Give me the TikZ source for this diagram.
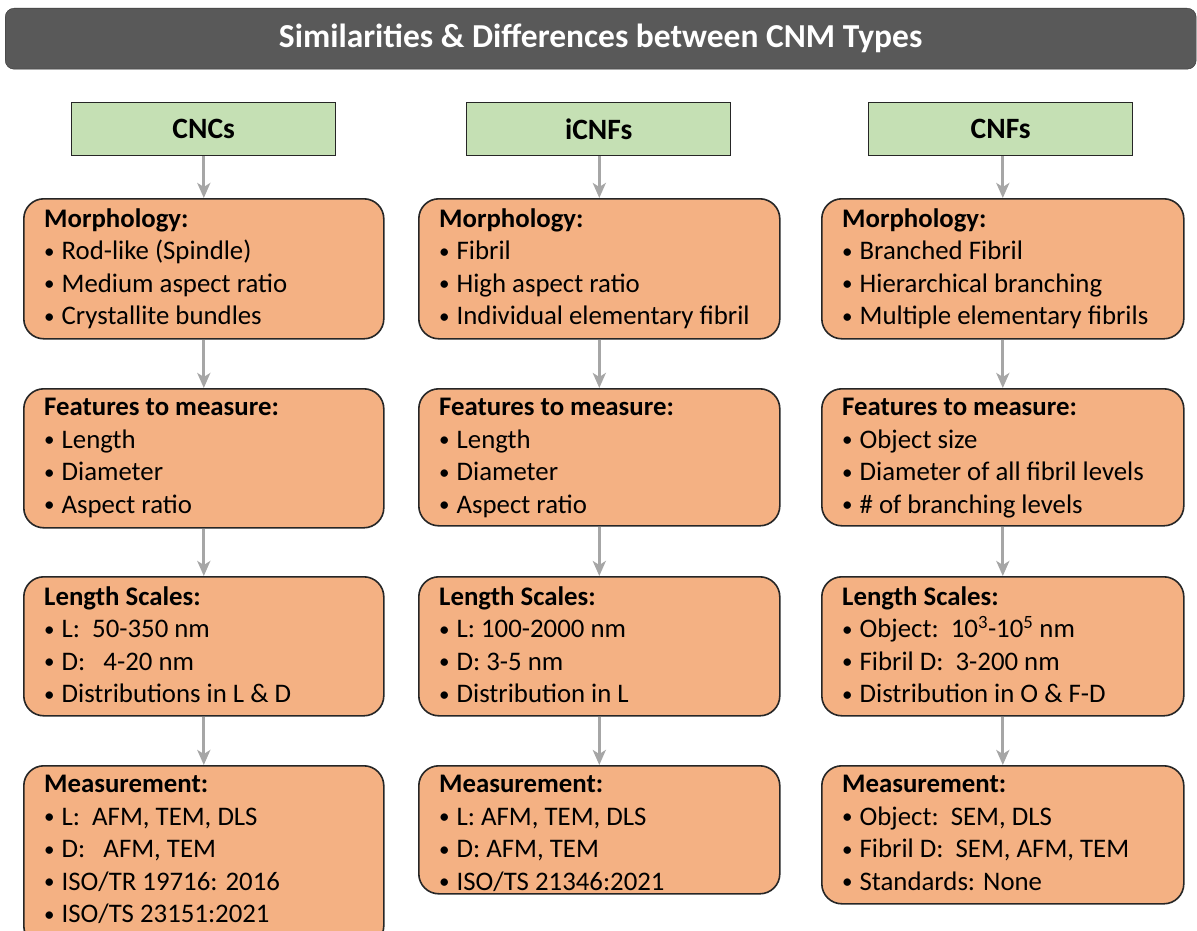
\documentclass[tikz,border=0pt]{standalone}
\usepackage{fontspec}
\setmainfont{Carlito}
\usetikzlibrary{arrows.meta}
\definecolor{orangebox}{HTML}{F4B183}
\definecolor{greenbox}{HTML}{C5E0B4}
\definecolor{titlegray}{HTML}{595959}
\definecolor{arrowgray}{HTML}{A6A6A6}
\definecolor{edgegray}{HTML}{262626}
\newcommand{\itm}{{\fontsize{21}{21}\selectfont\raisebox{1.5pt}{•}}\hspace{7pt}}
\tikzset{
  infobox/.style={draw=edgegray, line width=1.6pt, fill=orangebox, rounded corners=20pt,
    anchor=north west, inner sep=0pt, minimum width=#1},
  infotext/.style={anchor=north west, inner sep=0pt, align=left,
    font=\fontsize{26.8}{32.5}\selectfont, text=black},
  typebox/.style={draw=edgegray, line width=1.4pt, fill=greenbox, anchor=north west,
    inner sep=0pt, minimum height=53pt, minimum width=264pt,
    font=\fontsize{29.5}{32}\selectfont\bfseries},
  flow/.style={draw=arrowgray, line width=3.2pt, -{Stealth[length=15pt,width=13pt,inset=4pt]}},
}
\begin{document}
\begin{tikzpicture}[x=1pt,y=-1pt]
\useasboundingbox (0,0) rectangle (1197,931);
\clip (0,0) rectangle (1197,931);
% title
\node[draw=black!80, fill=titlegray, rounded corners=9pt, anchor=north west, inner sep=0pt,
  minimum width=1191pt, minimum height=61pt] (titlebar) at (5,8) {};
\node[text=white, font=\fontsize{33.5}{36}\selectfont\bfseries] (title)
  at (titlebar.center) {Similarities \& Differences between CNM Types};
% type boxes
\node[typebox] (g1) at (71,102) {CNCs};
\node[typebox] (g2) at (466,102) {iCNFs};
\node[typebox] (g3) at (868,102) {CNFs};
% column 1
\node[infobox=360pt, minimum height=140pt] (a1) at (23,198) {};
\node[infobox=360pt, minimum height=139pt] (b1) at (23,388) {};
\node[infobox=360pt, minimum height=139pt] (c1) at (23,576) {};
\node[infobox=360pt, minimum height=180pt] (d1) at (23,765) {};
% column 2
\node[infobox=361pt, minimum height=140pt] (a2) at (418,198) {};
\node[infobox=361pt, minimum height=137pt] (b2) at (418,388) {};
\node[infobox=361pt, minimum height=139pt] (c2) at (418,576) {};
\node[infobox=361pt, minimum height=128pt] (d2) at (418,765) {};
% column 3
\node[infobox=362pt, minimum height=140pt] (a3) at (821,198) {};
\node[infobox=362pt, minimum height=137pt] (b3) at (821,388) {};
\node[infobox=362pt, minimum height=139pt] (c3) at (821,576) {};
\node[infobox=362pt, minimum height=138pt] (d3) at (821,765) {};
% texts column 1
\node[infotext] (ta1) at ([shift={(21,10)}]a1.north west) {\textbf{Morphology:}\\
  \itm Rod-like (Spindle)\\ \itm Medium aspect ratio\\ \itm Crystallite bundles};
\node[infotext] (tb1) at ([shift={(21,10)}]b1.north west) {\textbf{Features to measure:}\\
  \itm Length\\ \itm Diameter\\ \itm Aspect ratio};
\node[infotext] (tc1) at ([shift={(21,10)}]c1.north west) {\textbf{Length Scales:}\\
  \itm L:\ \ 50-350 nm\\ \itm D:\ \ \ 4-20 nm\\ \itm Distributions in L \& D};
\node[infotext] (td1) at ([shift={(21,10)}]d1.north west) {\textbf{Measurement:}\\
  \itm L:\ \ AFM, TEM, DLS\\ \itm D:\ \ \ AFM, TEM\\ \itm ISO/TR 19716: 2016\\ \itm ISO/TS 23151:2021};
% texts column 2
\node[infotext] (ta2) at ([shift={(21,10)}]a2.north west) {\textbf{Morphology:}\\
  \itm Fibril\\ \itm High aspect ratio\\ \itm Individual elementary fibril};
\node[infotext] (tb2) at ([shift={(21,10)}]b2.north west) {\textbf{Features to measure:}\\
  \itm Length\\ \itm Diameter\\ \itm Aspect ratio};
\node[infotext] (tc2) at ([shift={(21,10)}]c2.north west) {\textbf{Length Scales:}\\
  \itm L: 100-2000 nm\\ \itm D: 3-5 nm\\ \itm Distribution in L};
\node[infotext] (td2) at ([shift={(21,10)}]d2.north west) {\textbf{Measurement:}\\
  \itm L: AFM, TEM, DLS\\ \itm D: AFM, TEM\\ \itm ISO/TS 21346:2021};
% texts column 3
\node[infotext] (ta3) at ([shift={(21,10)}]a3.north west) {\textbf{Morphology:}\\
  \itm Branched Fibril\\ \itm Hierarchical branching\\ \itm Multiple elementary fibrils};
\node[infotext] (tb3) at ([shift={(21,10)}]b3.north west) {\textbf{Features to measure:}\\
  \itm Object size\\ \itm Diameter of all fibril levels\\ \itm \# of branching levels};
\node[infotext] (tc3) at ([shift={(21,10)}]c3.north west) {\textbf{Length Scales:}\\
  \itm Object:\ \ 10\textsuperscript{3}-10\textsuperscript{5} nm\\ \itm Fibril D:\ \ 3-200 nm\\ \itm Distribution in O \& F-D};
\node[infotext] (td3) at ([shift={(21,10)}]d3.north west) {\textbf{Measurement:}\\
  \itm Object:\ \ SEM, DLS\\ \itm Fibril D:\ \ SEM, AFM, TEM\\ \itm Standards: None};
% arrows
\foreach \c in {1,2,3}{
  \draw[flow] (a\c.north |- g\c.south) -- (a\c.north);
  \draw[flow] (a\c.south) -- (b\c.north);
  \draw[flow] (b\c.south) -- (c\c.north);
  \draw[flow] (c\c.south) -- (d\c.north);
}
\end{tikzpicture}
\end{document}
